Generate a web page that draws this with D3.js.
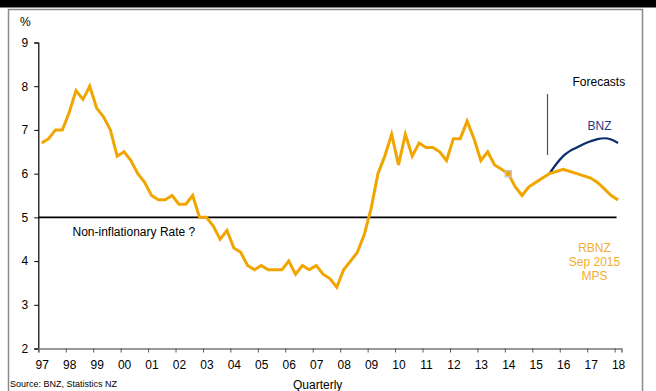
<!DOCTYPE html>
<html>
<head>
<meta charset="utf-8">
<script src="https://cdn.jsdelivr.net/npm/d3@7/dist/d3.min.js"></script>
<style>
  html, body { margin: 0; padding: 0; background: #fff; }
  svg { display: block; font-family: "Liberation Sans", Arial, sans-serif; }
</style>
</head>
<body>
<svg id="chart" width="656" height="391"></svg>
<script>
// Quarterly series, starting 1997 Q1
const startYear = 1997;
const yearTicks = d3.range(1997, 2019);
const yTicks = [2, 3, 4, 5, 6, 7, 8, 9];

// Historical and RBNZ Sep 2015 MPS projection (annual % change)
const rbnzValues = [
  6.7, 6.8, 7.0, 7.0, 7.4, 7.9, 7.7, 8.0, 7.5, 7.3, 7.0, 6.4,
  6.5, 6.3, 6.0, 5.8, 5.5, 5.4, 5.4, 5.5, 5.3, 5.3, 5.5, 5.0,
  5.0, 4.8, 4.5, 4.7, 4.3, 4.2, 3.9, 3.8, 3.9, 3.8, 3.8, 3.8,
  4.0, 3.7, 3.9, 3.8, 3.9, 3.7, 3.6, 3.4, 3.8, 4.0, 4.2, 4.6,
  5.2, 6.0, 6.4, 6.9, 6.2, 6.9, 6.4, 6.7, 6.6, 6.6, 6.5, 6.3,
  6.8, 6.8, 7.2, 6.8, 6.3, 6.5, 6.2, 6.1, 6.0, 5.7, 5.5, 5.7,
  5.8, 5.9, 6.0, 6.05, 6.1, 6.05, 6.0, 5.95, 5.9, 5.8, 5.65, 5.5,
  5.4
];
// BNZ forecast, beginning at quarter index 74
const bnzStart = 74;
const bnzValues = [6.0, 6.22, 6.4, 6.52, 6.6, 6.68, 6.74, 6.79, 6.81, 6.78, 6.7];
// Highlighted observation (quarter index)
const markerIndex = 68;
const nonInflationaryRate = 5;

const svg = d3.select("#chart");

// Black banner and frame
svg.append("rect").attr("x", 0).attr("y", 0).attr("width", 656).attr("height", 7.5).attr("fill", "#000");
svg.append("rect").attr("x", 8.5).attr("y", 9.5).attr("width", 634).attr("height", 400)
  .attr("fill", "none").attr("stroke", "#8a8a8a").attr("stroke-width", 1.5);

// Scales: x in years (each quarter is a category of width 0.25)
const x = d3.scaleLinear().domain([startYear, 2018.25]).range([38.3, 621.5]);
const y = d3.scaleLinear().domain([2, 9]).range([348.5, 42.5]);
const qx = i => x(startYear + (i + 0.5) / 4);

// Y axis
const yAxis = svg.append("g").attr("transform", `translate(${x(startYear)},0)`)
  .call(d3.axisLeft(y).tickValues(yTicks).tickFormat(d3.format("d")).tickSize(4).tickPadding(6));
yAxis.select(".domain").attr("stroke", "#000").attr("stroke-width", 1.2);
yAxis.selectAll(".tick line").attr("stroke", "#000");
yAxis.selectAll(".tick text").attr("font-size", 12).attr("fill", "#000").attr("font-family", "Liberation Sans, Arial, sans-serif");

// X axis
const xAxis = svg.append("g").attr("transform", `translate(0,${y(2)})`)
  .call(d3.axisBottom(x).tickValues(yearTicks).tickFormat(d => String(d).slice(2)).tickSizeOuter(0).tickSize(4).tickPadding(8));
xAxis.select(".domain").attr("stroke", "#777").attr("stroke-width", 1.6);
xAxis.selectAll(".tick line").attr("stroke", "#555");
xAxis.selectAll(".tick text").attr("font-size", 12).attr("fill", "#000")
  .attr("dx", x(startYear + 0.125) - x(startYear))
  .attr("font-family", "Liberation Sans, Arial, sans-serif");

// Non-inflationary rate line
svg.append("line")
  .attr("x1", x(startYear)).attr("x2", qx(rbnzValues.length - 1) - 1.5)
  .attr("y1", y(nonInflationaryRate)).attr("y2", y(nonInflationaryRate))
  .attr("stroke", "#000").attr("stroke-width", 1.8);

// Forecast divider
svg.append("line")
  .attr("x1", 547.5).attr("x2", 547.5).attr("y1", 94).attr("y2", 155)
  .attr("stroke", "#555").attr("stroke-width", 1.2);

// BNZ forecast line
const bnzLine = d3.line().x((d, i) => qx(bnzStart + i)).y(d => y(d)).curve(d3.curveMonotoneX);
svg.append("path").datum(bnzValues).attr("d", bnzLine)
  .attr("fill", "none").attr("stroke", "#0b2d6b").attr("stroke-width", 2.2);

// Historical + RBNZ line
const rbnzLine = d3.line().x((d, i) => qx(i)).y(d => y(d));
svg.append("path").datum(rbnzValues).attr("d", rbnzLine)
  .attr("fill", "none").attr("stroke", "#f0a500").attr("stroke-width", 3)
  .attr("stroke-linejoin", "miter");

// Highlighted observation marker
svg.append("rect")
  .attr("x", qx(markerIndex) - 3).attr("y", y(rbnzValues[markerIndex]) - 3)
  .attr("width", 6).attr("height", 6)
  .attr("fill", "#f0a500").attr("stroke", "#c4c4c4").attr("stroke-width", 1.5);

// Labels
const txt = (t, xx, yy, opts = {}) => svg.append("text")
  .attr("x", xx).attr("y", yy).text(t)
  .attr("font-size", opts.size || 12)
  .attr("fill", opts.fill || "#000")
  .attr("text-anchor", opts.anchor || "start");

txt("%", 20, 26);
txt("Forecasts", 572.5, 85.5);
txt("BNZ", 599.5, 129.5, { anchor: "middle", fill: "#1c3d8a" });
txt("RBNZ", 594.5, 252, { anchor: "middle", fill: "#f2ae2e" });
txt("Sep 2015", 594.5, 266, { anchor: "middle", fill: "#f2ae2e" });
txt("MPS", 594.5, 279.5, { anchor: "middle", fill: "#f2ae2e" });
txt("Non-inflationary Rate ?", 72.5, 236);
txt("Quarterly", 293, 389);
txt("Source: BNZ, Statistics NZ", 10, 387, { size: 9 });
</script>
</body>
</html>
